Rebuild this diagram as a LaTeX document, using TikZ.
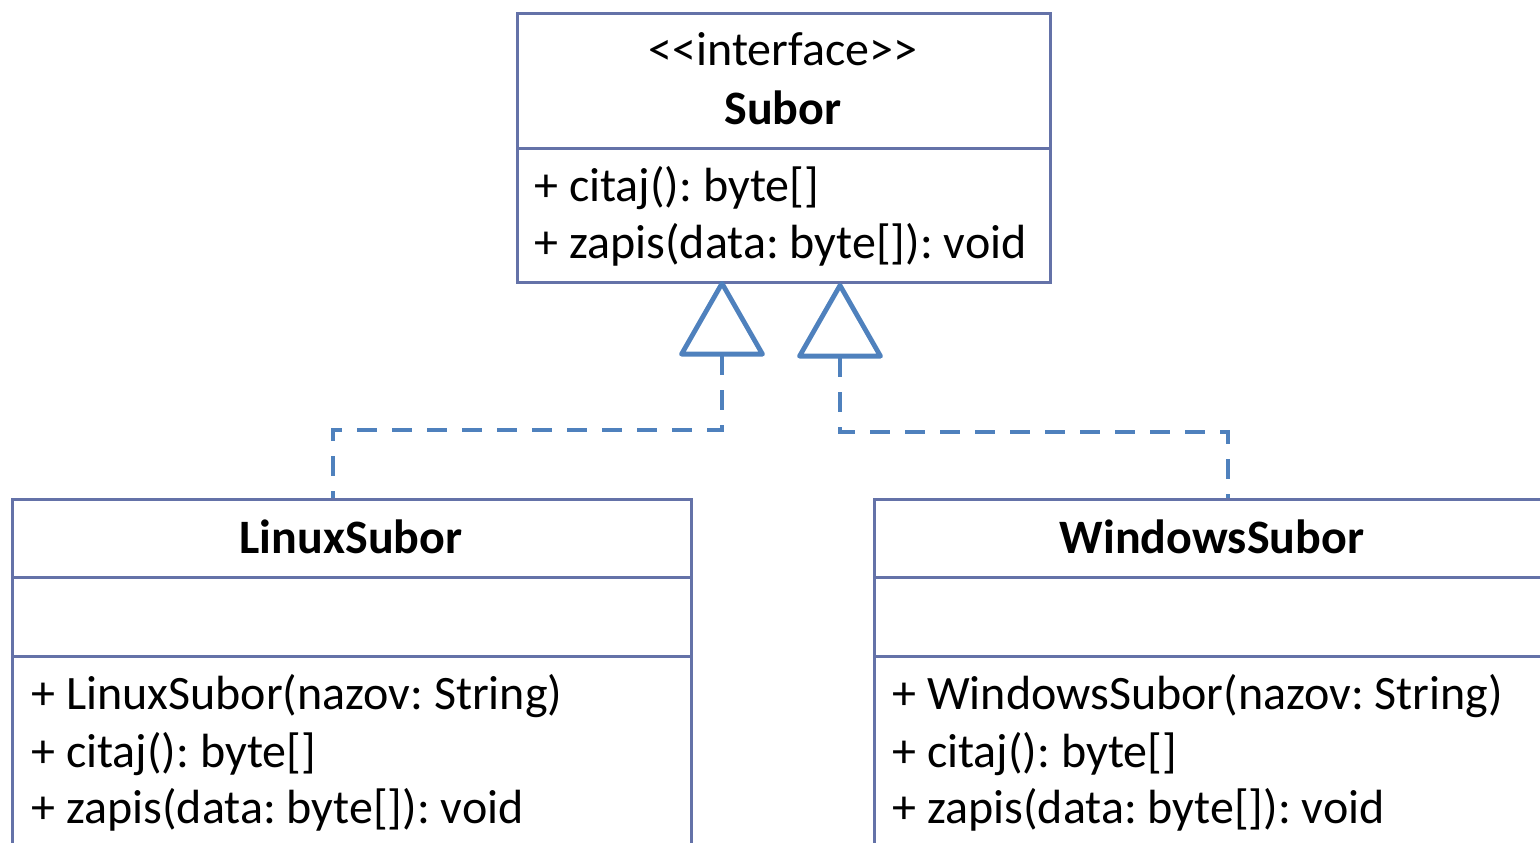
\documentclass[tikz,border=0pt]{standalone}
\usepackage{fontspec}
\newfontfamily\umlfont{Carlito}
\usetikzlibrary{arrows.meta}

\definecolor{umlline}{RGB}{100,114,168}
\definecolor{realizeblue}{RGB}{79,129,189}

\tikzset{
  classpart/.style={draw=umlline, line width=1.7pt, inner sep=0pt, anchor=north west},
  umltext/.style={inner sep=0pt, font=\umlfont\frenchspacing\fontsize{24}{28}\selectfont},
  membertext/.style={umltext, anchor=base west},
  classname/.style={umltext, anchor=base},
  realize/.style={draw=realizeblue, line width=2.4pt, dash pattern=on 10pt off 7.5pt,
    {Triangle[open, length=39pt, width=44pt, line join=round]}-}
}

\begin{document}
\begin{tikzpicture}[x=0.5pt, y=-0.5pt]
    \useasboundingbox (0,0) rectangle (1540,842);
    \clip (0,0) rectangle (1540,842);

    % interface Subor
    \node[classpart, minimum width=266.5pt, minimum height=67.5pt] (subor-head) at (516,12) {};
    \node[classpart, minimum width=266.5pt, minimum height=67pt] (subor-ops) at (516,147) {};
    \node[classname] (subor-stereo) at (783,65) {<<interface>>};
    \node[classname] (subor-name) at (783,124) {\bfseries Subor};
    \node[membertext] (subor-m1) at (534,201) {+ citaj(): byte[]};
    \node[membertext] (subor-m2) at (534,258) {+ zapis(data: byte[]): void};

    % LinuxSubor
    \node[classpart, minimum width=339.5pt, minimum height=39pt] (linux-head) at (11,498) {};
    \node[classpart, minimum width=339.5pt, minimum height=39.5pt] (linux-attr) at (11,576) {};
    \node[classpart, minimum width=339.5pt, minimum height=107.5pt] (linux-ops) at (11,655) {};
    \node[classname] (linux-name) at (351,553) {\bfseries LinuxSubor};
    \node[membertext] (linux-m1) at (31,709) {+ LinuxSubor(nazov: String)};
    \node[membertext] (linux-m2) at (31,767) {+ citaj(): byte[]};
    \node[membertext] (linux-m3) at (31,823) {+ zapis(data: byte[]): void};

    % WindowsSubor
    \node[classpart, minimum width=339.5pt, minimum height=39pt] (win-head) at (873,498) {};
    \node[classpart, minimum width=339.5pt, minimum height=39.5pt] (win-attr) at (873,576) {};
    \node[classpart, minimum width=339.5pt, minimum height=107.5pt] (win-ops) at (873,655) {};
    \node[classname] (win-name) at (1212,553) {\bfseries WindowsSubor};
    \node[membertext] (win-m1) at (892,709) {+ WindowsSubor(nazov: String)};
    \node[membertext] (win-m2) at (892,767) {+ citaj(): byte[]};
    \node[membertext] (win-m3) at (892,823) {+ zapis(data: byte[]): void};

    % realizacie
    \coordinate (tip-linux) at (722,281);
    \coordinate (tip-win) at (840,283);
    \coordinate (top-linux) at (333,498);
    \coordinate (top-win) at (1228,498);
    \draw[realize] (tip-linux) -- ++(0,149) -| (top-linux);
    \draw[realize] (tip-win) -- ++(0,149) -| (top-win);
\end{tikzpicture}
\end{document}
